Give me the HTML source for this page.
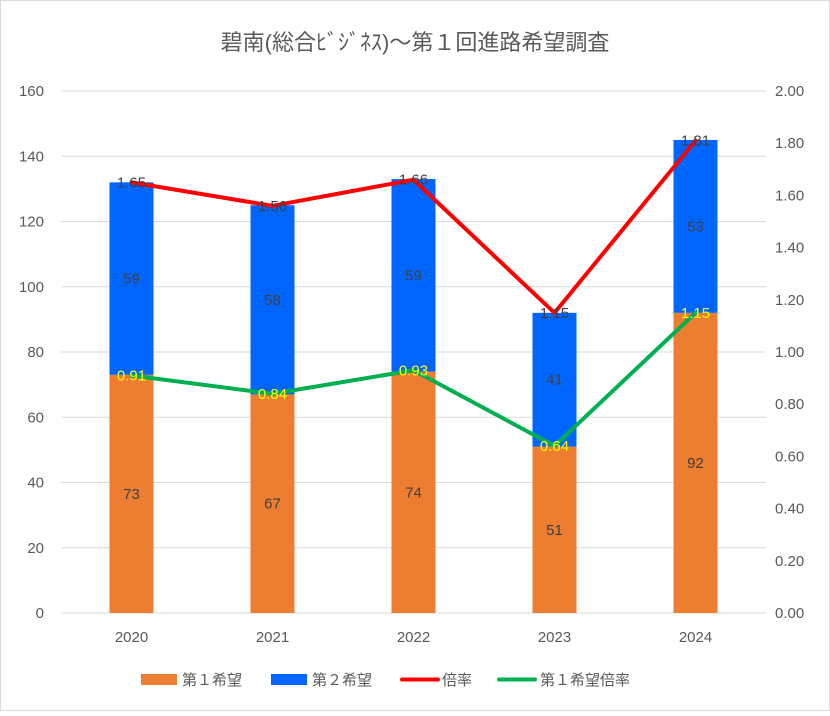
<!DOCTYPE html>
<html><head><meta charset="utf-8">
<style>
body{margin:0;background:#fff;}
svg text{font-family:"Liberation Sans","Noto Sans CJK JP",sans-serif;}
</style></head>
<body>
<svg id="chart" width="830" height="711" viewBox="0 0 830 711" xmlns="http://www.w3.org/2000/svg">
<rect x="0.5" y="0.5" width="829" height="710" fill="#fff" stroke="#d9d9d9"/>
<text x="415" y="50" text-anchor="middle" font-size="22" fill="#595959">碧南(総合ﾋﾞｼﾞﾈｽ)～第１回進路希望調査</text>
<g id="grid"></g><g id="bars"></g><g id="lines"></g><g id="labels"></g><g id="axes"></g>
<g>
<rect x="141" y="674" width="36" height="11" fill="#ed7d31"/>
<text x="182" y="685" font-size="15" fill="#595959">第１希望</text>
<rect x="271" y="674" width="36" height="11" fill="#0066ff"/>
<text x="312" y="685" font-size="15" fill="#595959">第２希望</text>
<line x1="402" y1="679.5" x2="438" y2="679.5" stroke="#ff0000" stroke-width="4" stroke-linecap="round"/>
<text x="442" y="685" font-size="15" fill="#595959">倍率</text>
<line x1="499" y1="679.5" x2="535" y2="679.5" stroke="#00b050" stroke-width="4" stroke-linecap="round"/>
<text x="540" y="685" font-size="15" fill="#595959">第１希望倍率</text>
</g>
</svg>
<script>
const categories=["2020","2021","2022","2023","2024"];
const firstChoice=[73,67,74,51,92];
const secondChoice=[59,58,59,41,53];
const ratio=[1.65,1.56,1.66,1.15,1.81];
const firstRatio=[0.91,0.84,0.93,0.64,1.15];
const leftTicks=[0,20,40,60,80,100,120,140,160];
const rightTicks=["0.00","0.20","0.40","0.60","0.80","1.00","1.20","1.40","1.60","1.80","2.00"];
const NS="http://www.w3.org/2000/svg";
const X0=61,X1=766,Y0=613,Y1=91;
const yL=v=>Y0-(v/160)*(Y0-Y1);
const yR=v=>Y0-(v/2)*(Y0-Y1);
const step=(X1-X0)/categories.length;
const xC=i=>X0+step*(i+0.5);
const bw=44;
function mk(tag,attrs,parent){const e=document.createElementNS(NS,tag);for(const k in attrs)e.setAttribute(k,attrs[k]);document.getElementById(parent).appendChild(e);return e;}
leftTicks.forEach(t=>{
  const l=mk('line',{x1:X0,x2:X1,y1:yL(t),y2:yL(t),stroke:'#d9d9d9','stroke-width':1},'grid');
  
  
  const tx=mk('text',{x:44,y:yL(t)+5,'text-anchor':'end','font-size':15,fill:'#595959'},'axes');
  tx.textContent=t;
  
  
});
rightTicks.forEach(t=>{
  const tx=mk('text',{x:775,y:yR(parseFloat(t))+5,'font-size':15,fill:'#595959'},'axes');
  tx.textContent=t;
  
  
});
categories.forEach((c,i)=>{
  const tx=mk('text',{x:xC(i),y:642,'text-anchor':'middle','font-size':15,fill:'#595959'},'axes');
  tx.textContent=c;
  
  
  const b1=mk('rect',{x:xC(i)-bw/2,y:yL(firstChoice[i]),width:bw,height:Y0-yL(firstChoice[i]),fill:'#ed7d31'},'bars');
  
  
  const top=firstChoice[i]+secondChoice[i];
  const b2=mk('rect',{x:xC(i)-bw/2,y:yL(top),width:bw,height:yL(firstChoice[i])-yL(top),fill:'#0066ff'},'bars');
  
  
  const l1=mk('text',{x:xC(i),y:(yL(firstChoice[i])+Y0)/2+5,'text-anchor':'middle','font-size':15,fill:'#404040'},'labels');
  l1.textContent=firstChoice[i];
  
  
  const l2=mk('text',{x:xC(i),y:(yL(firstChoice[i])+yL(top))/2+5,'text-anchor':'middle','font-size':15,fill:'#404040'},'labels');
  l2.textContent=secondChoice[i];
  
  
  const l3=mk('text',{x:xC(i),y:yR(ratio[i])+5,'text-anchor':'middle','font-size':15,fill:'#404040'},'labels');
  l3.textContent=ratio[i].toFixed(2);
  
  
  const l4=mk('text',{x:xC(i),y:yR(firstRatio[i])+5,'text-anchor':'middle','font-size':15,fill:'#ffff00'},'labels');
  l4.textContent=firstRatio[i].toFixed(2);
  
  
});
const pr=mk('polyline',{points:ratio.map((v,i)=>xC(i)+','+yR(v)).join(' '),fill:'none',stroke:'#ff0000','stroke-width':4,'stroke-linejoin':'round','stroke-linecap':'round'},'lines');


const pg=mk('polyline',{points:firstRatio.map((v,i)=>xC(i)+','+yR(v)).join(' '),fill:'none',stroke:'#00b050','stroke-width':4,'stroke-linejoin':'round','stroke-linecap':'round'},'lines');


</script>
</body></html>
